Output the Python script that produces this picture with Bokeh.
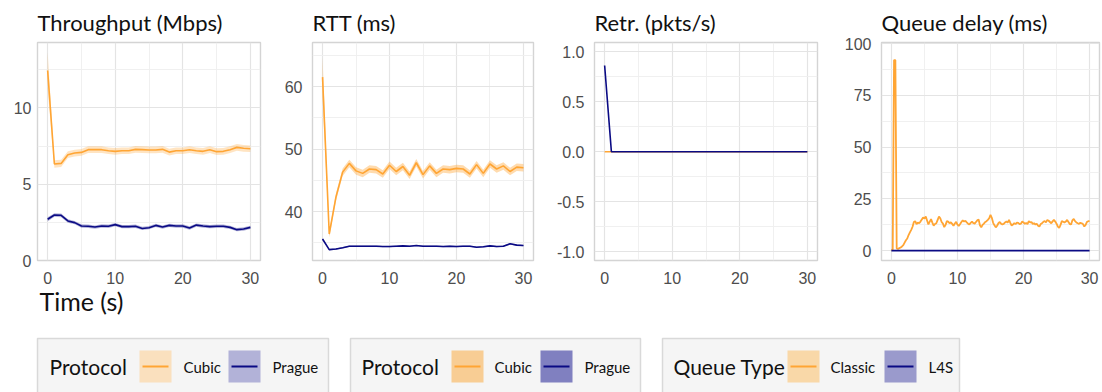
from bokeh.plotting import figure
from bokeh.models import Range1d, FixedTicker
from bokeh.layouts import row, column
from bokeh.embed import file_html
from bokeh.resources import INLINE
from bokeh.core.properties import value

# ---------------- data ----------------
seconds = list(range(31))

tput_cubic = [12.45, 6.32, 6.36, 6.93, 7.04, 7.08, 7.26, 7.26, 7.26, 7.19, 7.15,
              7.19, 7.19, 7.28, 7.26, 7.24, 7.24, 7.28, 7.10, 7.19, 7.19,
              7.26, 7.19, 7.15, 7.26, 7.13, 7.15, 7.26, 7.41, 7.35, 7.32]
tput_cubic_ci = [1.20, 0.24, 0.24, 0.22, 0.22, 0.22, 0.22, 0.22, 0.22, 0.22, 0.22,
                 0.22, 0.22, 0.22, 0.22, 0.22, 0.22, 0.22, 0.22, 0.22, 0.22,
                 0.22, 0.22, 0.22, 0.22, 0.22, 0.22, 0.22, 0.22, 0.22, 0.22]
tput_prague = [2.70, 2.98, 2.96, 2.59, 2.48, 2.26, 2.24, 2.19, 2.26, 2.24, 2.35,
               2.22, 2.22, 2.24, 2.10, 2.15, 2.30, 2.19, 2.30, 2.26, 2.26,
               2.13, 2.32, 2.26, 2.22, 2.24, 2.24, 2.17, 2.02, 2.06, 2.17]
tput_prague_ci = [0.14, 0.12, 0.12, 0.11, 0.11, 0.11, 0.11, 0.11, 0.11, 0.11, 0.11,
                  0.11, 0.11, 0.11, 0.11, 0.11, 0.11, 0.11, 0.11, 0.11, 0.11,
                  0.11, 0.11, 0.11, 0.11, 0.11, 0.11, 0.11, 0.11, 0.11, 0.11]

rtt_cubic = [61.5, 36.4, 42.3, 46.3, 47.7, 46.5, 46.1, 46.8, 46.7, 46.0, 47.4,
             46.4, 47.2, 45.8, 47.8, 45.9, 47.3, 46.1, 46.8, 46.7, 46.9,
             46.8, 46.0, 47.5, 46.1, 47.6, 46.8, 47.3, 46.4, 47.1, 47.0]
rtt_cubic_ci = [3.2, 0.5, 0.6, 0.6, 0.6, 0.6, 0.6, 0.6, 0.6, 0.6, 0.6,
                0.6, 0.6, 0.6, 0.6, 0.6, 0.6, 0.6, 0.6, 0.6, 0.6,
                0.6, 0.6, 0.6, 0.6, 0.6, 0.6, 0.6, 0.6, 0.6, 0.6]
rtt_prague = [35.6, 33.9, 34.0, 34.2, 34.45, 34.45, 34.45, 34.45, 34.45, 34.4, 34.4,
              34.45, 34.5, 34.45, 34.56, 34.45, 34.45, 34.45, 34.4, 34.45, 34.4,
              34.45, 34.45, 34.29, 34.35, 34.5, 34.4, 34.45, 34.83, 34.62, 34.56]
rtt_prague_ci = [0.12, 0.1, 0.1, 0.1, 0.1, 0.1, 0.1, 0.1, 0.1, 0.1, 0.1,
                 0.1, 0.1, 0.1, 0.1, 0.1, 0.1, 0.1, 0.1, 0.1, 0.1,
                 0.1, 0.1, 0.1, 0.1, 0.1, 0.1, 0.1, 0.1, 0.1, 0.1]

retr_cubic = [0.0, 0.0, 0.0, 0.0, 0.0, 0.0, 0.0, 0.0, 0.0, 0.0, 0.0,
              0.0, 0.0, 0.0, 0.0, 0.0, 0.0, 0.0, 0.0, 0.0, 0.0,
              0.0, 0.0, 0.0, 0.0, 0.0, 0.0, 0.0, 0.0, 0.0, 0.0]
retr_prague = [0.86, 0.0, 0.0, 0.0, 0.0, 0.0, 0.0, 0.0, 0.0, 0.0, 0.0,
               0.0, 0.0, 0.0, 0.0, 0.0, 0.0, 0.0, 0.0, 0.0, 0.0,
               0.0, 0.0, 0.0, 0.0, 0.0, 0.0, 0.0, 0.0, 0.0, 0.0]

qd_time = [round(i * 0.2, 1) for i in range(151)]
qd_classic = [0.0, 0.5, 92.0, 92.0, 1.0, 0.8, 1.2, 1.5, 2.0, 2.6,
              3.8, 5.0, 5.8, 7.5, 8.8, 10.0, 11.5, 13.8, 14.2, 12.8,
              13.5, 13.2, 14.0, 15.0, 16.0, 15.5, 16.4, 14.5, 12.6, 14.0,
              15.2, 13.5, 12.0, 12.8, 13.2, 14.8, 16.4, 15.6, 13.8, 13.0,
              11.3, 12.4, 14.2, 14.0, 13.2, 13.7, 12.9, 12.0, 13.1, 13.9,
              12.5, 11.9, 12.8, 13.8, 14.6, 14.0, 14.4, 13.6, 13.0, 12.6,
              13.4, 14.0, 13.3, 13.0, 13.8, 14.6, 15.0, 12.2, 11.2, 12.4,
              13.0, 13.8, 14.2, 14.8, 15.6, 17.2, 15.8, 13.4, 12.2, 11.2,
              12.0, 13.2, 13.8, 13.0, 12.6, 12.9, 13.6, 14.0, 13.5, 14.8,
              13.4, 12.1, 12.6, 13.2, 12.8, 13.5, 13.4, 12.8, 13.0, 14.0,
              13.6, 12.9, 13.3, 12.8, 14.2, 13.6, 13.8, 12.9, 13.2, 12.6,
              13.0, 12.0, 11.6, 12.8, 13.2, 13.9, 14.2, 13.6, 14.8, 14.4,
              13.8, 13.2, 14.1, 14.8, 14.0, 13.0, 11.6, 10.9, 12.4, 14.2,
              13.9, 13.6, 14.0, 14.8, 13.8, 12.8, 12.6, 14.6, 15.3, 14.2,
              13.6, 13.2, 12.9, 13.4, 13.2, 12.8, 11.6, 12.4, 13.8, 14.2,
              14.2]
qd_l4s = [0.0, 0.0, 0.0, 0.0, 0.0, 0.0, 0.0, 0.0, 0.0, 0.0, 0.0,
          0.0, 0.0, 0.0, 0.0, 0.0, 0.0, 0.0, 0.0, 0.0, 0.0,
          0.0, 0.0, 0.0, 0.0, 0.0, 0.0, 0.0, 0.0, 0.0, 0.0]

panel_titles = ["Throughput (Mbps)", "RTT (ms)", "Retr. (pkts/s)", "Queue delay (ms)"]
x_title = "Time (s)"
legend_titles = ["Protocol", "Protocol", "Queue Type"]
legend_labels = [["Cubic", "Prague"], ["Cubic", "Prague"], ["Classic", "L4S"]]

# ---------------- style ----------------
ORANGE = "#ffa534"
NAVY = "#0a0a84"
FONT = "Lato"
TICK_FONT = "Liberation Sans"


def panel(title, width, left, right, yr, yt, ym, standoff=10, overrides=None):
    p = figure(width=width, height=287, x_range=Range1d(-1.5, 31.5),
               y_range=Range1d(*yr), output_backend="svg", toolbar_location=None,
               min_border_left=left, min_border_right=right,
               min_border_top=42, min_border_bottom=27, title=title)
    p.title.text_font = FONT
    p.title.text_font_size = "22px"
    p.title.text_font_style = "normal"
    p.title.text_color = "#111111"
    p.title.align = "left"
    p.title.offset = 0
    p.title.standoff = 13
    p.outline_line_color = "#d4d4d4"
    p.outline_line_width = 1.4
    p.xaxis.ticker = FixedTicker(ticks=[0, 10, 20, 30], minor_ticks=[5, 15, 25])
    p.yaxis.ticker = FixedTicker(ticks=yt, minor_ticks=ym)
    if overrides:
        p.yaxis.major_label_overrides = overrides
    for ax in p.axis:
        ax.axis_line_color = None
        ax.major_tick_line_color = None
        ax.minor_tick_line_color = None
        ax.major_tick_out = 0
        ax.minor_tick_out = 0
        ax.major_tick_in = 0
        ax.minor_tick_in = 0
        ax.major_label_text_font = TICK_FONT
        ax.major_label_text_font_size = "16px"
        ax.major_label_text_color = "#4d4d4d"
    p.xaxis.major_label_standoff = 11
    p.yaxis.major_label_standoff = standoff
    p.grid.grid_line_color = "#e4e4e4"
    p.grid.grid_line_width = 1.2
    p.grid.minor_grid_line_color = "#eeeeee"
    p.grid.minor_grid_line_width = 0.9
    return p


def lower(m, c):
    return [a - b for a, b in zip(m, c)]


def upper(m, c):
    return [a + b for a, b in zip(m, c)]


# Throughput
p1 = panel(panel_titles[0], 280, 37, 20, (0, 14.28), [0, 5, 10], [2.5, 7.5, 12.5], standoff=6)
p1.varea(x=seconds, y1=lower(tput_cubic, tput_cubic_ci), y2=upper(tput_cubic, tput_cubic_ci),
         fill_color=ORANGE, fill_alpha=0.3)
p1.varea(x=seconds, y1=lower(tput_prague, tput_prague_ci), y2=upper(tput_prague, tput_prague_ci),
         fill_color=NAVY, fill_alpha=0.3)
p1.line(seconds, tput_cubic, line_color=ORANGE, line_width=1.6)
p1.line(seconds, tput_prague, line_color=NAVY, line_width=1.6)

# RTT
p2 = panel(panel_titles[1], 272, 32, 19, (32.16, 67.04), [40, 50, 60], [35, 45, 55, 65])
p2.varea(x=seconds, y1=lower(rtt_cubic, rtt_cubic_ci), y2=upper(rtt_cubic, rtt_cubic_ci),
         fill_color=ORANGE, fill_alpha=0.4)
p2.varea(x=seconds, y1=lower(rtt_prague, rtt_prague_ci), y2=upper(rtt_prague, rtt_prague_ci),
         fill_color=NAVY, fill_alpha=0.4)
p2.line(seconds, rtt_cubic, line_color=ORANGE, line_width=1.6)
p2.line(seconds, rtt_prague, line_color=NAVY, line_width=1.6)

# Retransmissions
p3 = panel(panel_titles[2], 289, 42, 24, (-1.085, 1.09), [-1, -0.5, 0, 0.5, 1],
           [-0.75, -0.25, 0.25, 0.75],
           overrides={-1: "-1.0", -0.5: "-0.5", 0: "0.0", 0.5: "0.5", 1: "1.0"})
p3.line(seconds, retr_cubic, line_color=ORANGE, line_width=1.6)
p3.line(seconds, retr_prague, line_color=NAVY, line_width=1.6)

# Queue delay
p4 = panel(panel_titles[3], 261, 36, 3, (-4.8, 100.5), [0, 25, 50, 75, 100],
           [12.5, 37.5, 62.5, 87.5])
p4.line(qd_time, qd_classic, line_color=ORANGE, line_width=1.8)
p4.line(seconds, qd_l4s, line_color=NAVY, line_width=1.8)

# ---------------- bottom strip: axis title + legends ----------------
lg = figure(width=1102, height=105, x_range=Range1d(0, 1102), y_range=Range1d(392, 287),
            output_backend="svg", toolbar_location=None, x_axis_type=None, y_axis_type=None,
            min_border=0, min_border_left=0, min_border_right=0, min_border_top=0,
            min_border_bottom=0)
lg.outline_line_color = None
lg.text(x=[39], y=[300], text=[x_title], text_font=value(FONT), text_font_size=value("25px"),
        text_baseline="middle", text_align="left", text_color="#111111")

boxes = [(37, 328), (350, 640), (662, 959)]
title_x = [49, 361, 673]
key_x = [[139, 228], [451, 540], [787, 884]]
label_x = [[183, 272], [494, 584], [830, 928]]
key_fills = [["#fae0be", "#b2b2d8"], ["#f8cd94", "#8080c0"], ["#f9d8a8", "#9a9acc"]]
for i in range(3):
    l, r = boxes[i]
    lg.quad(left=[l], right=[r], top=[338], bottom=[400], fill_color="#f5f5f5",
            line_color="#d9d9d9", line_width=1.5)
    lg.text(x=[title_x[i]], y=[366], text=[legend_titles[i]], text_font=value(FONT),
            text_font_size=value("21px"), text_baseline="middle", text_align="left",
            text_color="#111111")
    for j, col in enumerate([ORANGE, NAVY]):
        kx = key_x[i][j]
        lg.quad(left=[kx], right=[kx + 32], top=[350], bottom=[382],
                fill_color=key_fills[i][j], line_color=None)
        lg.segment(x0=[kx + 3], y0=[366], x1=[kx + 29], y1=[366], line_color=col, line_width=2)
        lg.text(x=[label_x[i][j]], y=[366], text=[legend_labels[i][j]], text_font=value(FONT),
                text_font_size=value("15px"), text_baseline="middle", text_align="left",
                text_color="#111111")

layout = column(row(p1, p2, p3, p4), lg)
open("out.html", "w").write(file_html(layout, INLINE))
